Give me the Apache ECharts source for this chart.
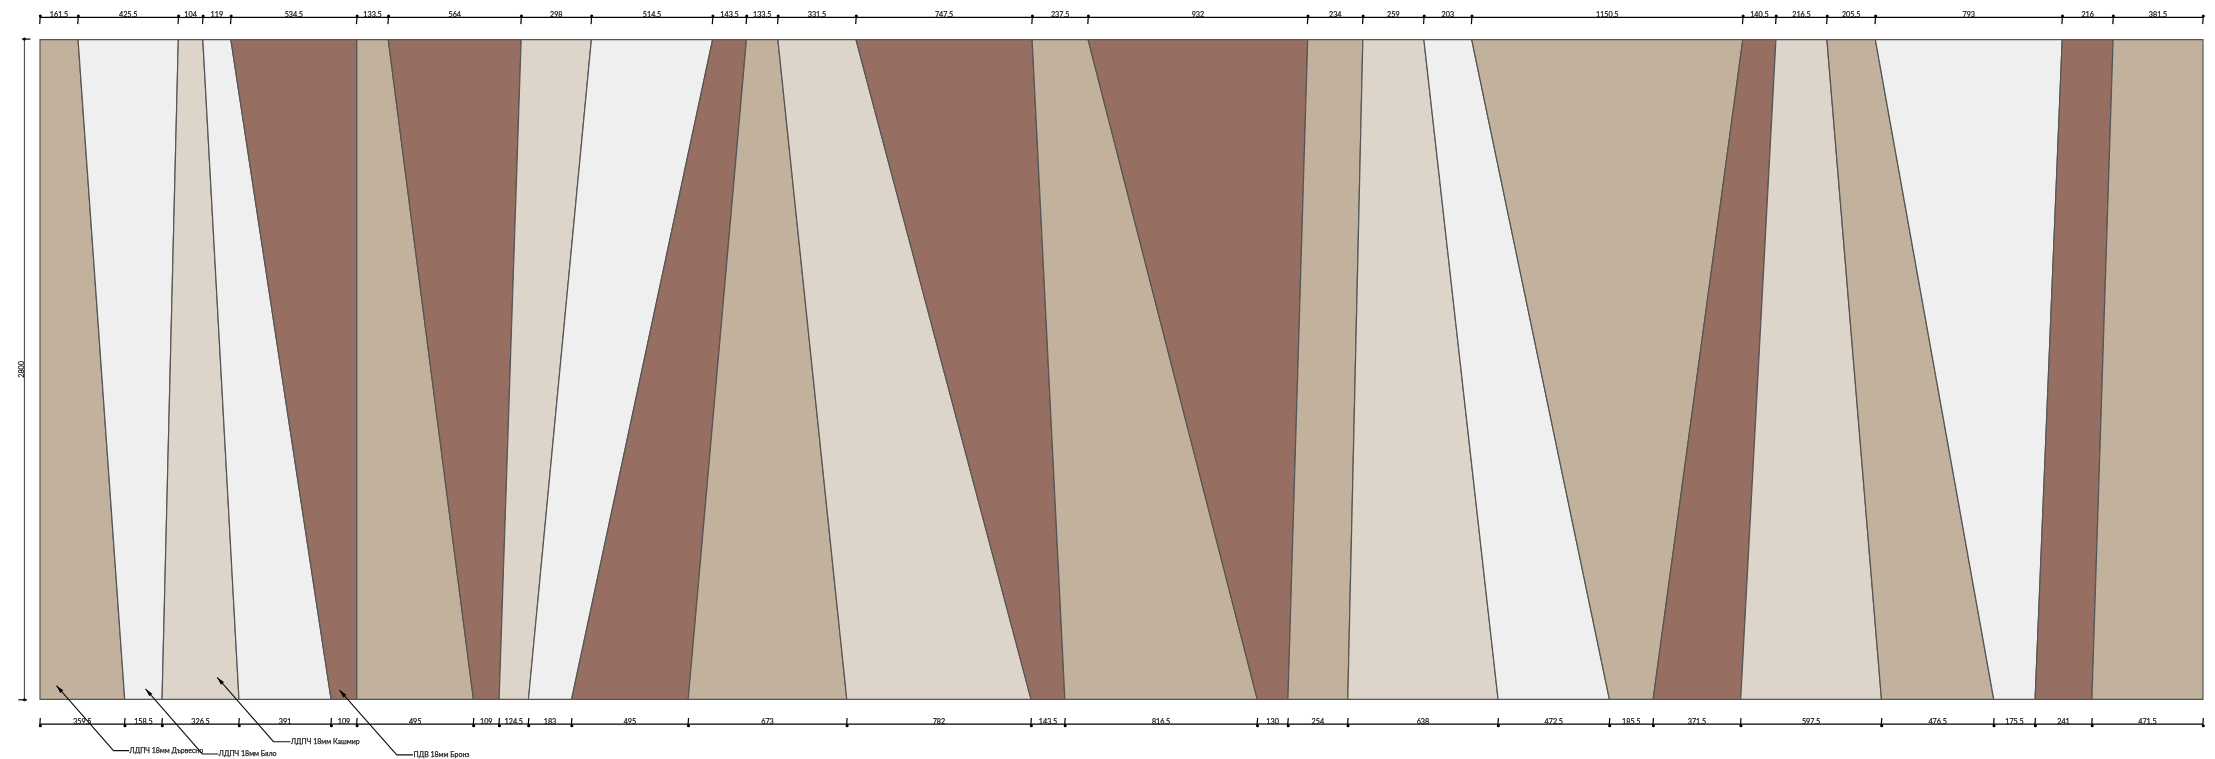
<!DOCTYPE html>
<html><head><meta charset="utf-8">
<style>html,body{margin:0;padding:0;background:#fff}#c{width:2215px;height:759px}</style>
<script src="https://cdn.jsdelivr.net/npm/echarts@6/dist/echarts.min.js"></script>
</head><body><div id="c"></div>
<script>
const topWidths=[161.5,425.5,104,119,534.5,133.5,564,298,514.5,143.5,133.5,331.5,747.5,237.5,932,234,259,203,1150.5,140.5,216.5,205.5,793,216,381.5];
const bottomWidths=[359.5,158.5,326.5,391,109,495,109,124.5,183,495,673,782,143.5,816.5,130,254,638,472.5,185.5,371.5,597.5,476.5,175.5,241,471.5];
const materials=['tan','white','beige','white','brown','tan','brown','beige','white','brown','tan','beige','brown','tan','brown','tan','beige','white','tan','brown','beige','tan','white','brown','tan'];
const heightValue=2800;
const leaderLabels=['ЛДПЧ 18мм Дървесно','ЛДПЧ 18мм Бяло','ЛДПЧ 18мм Кашмир','ПДВ 18мм Бронз'];
const leaderTipX=[70,448,752,1271];
const leaderTipY=[58,44,93,39];
const leaderKneeX=[312,689,991,1514];
const leaderKneeY=[-218,-232,-180,-236];
const leaderEndX=[378,757,1063,1583];

const COLORS={tan:'#c2b19c',white:'#efefef',beige:'#ddd5ca',brown:'#976f62'};
const FONT='Lato, "Noto Sans", sans-serif';
const TOP_DIM_Y=2894, BOTTOM_DIM_Y=-105;
const edges=a=>{let s=0;const r=[0];a.forEach(v=>{s+=v;r.push(s)});return r};
const topEdges=edges(topWidths),bottomEdges=edges(bottomWidths);
const total=topEdges[topEdges.length-1];
const textStyle={fill:'#1a1a1a',stroke:'#333',lineWidth:0.25};

function panelItem(p,api){
  const i=api.value(0);
  const pts=[[topEdges[i],heightValue],[topEdges[i+1],heightValue],[bottomEdges[i+1],0],[bottomEdges[i],0]].map(q=>api.coord(q));
  return {type:'polygon',shape:{points:pts},style:{fill:COLORS[materials[i]],stroke:'#555',lineWidth:1.2}};
}
function dimItem(edgesArr,widths,dimY,isTop){
  return function(p,api){
    const i=api.value(0);
    const a=api.coord([edgesArr[i],dimY]),b=api.coord([edgesArr[i+1],dimY]);
    const y=a[1];
    const up=isTop?-2.3:-6, down=isTop?6.7:2.7, dot=isTop?-1.5:1.6;
    const ch=[
      {type:'line',shape:{x1:a[0],y1:y,x2:b[0],y2:y},style:{stroke:'#000',lineWidth:1.2}},
      {type:'line',shape:{x1:a[0]+0.3,y1:y+up,x2:a[0]-0.3,y2:y+down},style:{stroke:'#000',lineWidth:1.2}},
      {type:'circle',shape:{cx:a[0]+0.3,cy:y+dot,r:1.5},style:{fill:'#000'}},
      {type:'text',style:Object.assign({x:(a[0]+b[0])/2,y:y-2.8,text:String(widths[i]),font:'7.2px '+FONT,textAlign:'center',textVerticalAlign:'middle'},textStyle)}
    ];
    if(i===widths.length-1){
      ch.push({type:'line',shape:{x1:b[0]+0.3,y1:y+up,x2:b[0]-0.3,y2:y+down},style:{stroke:'#000',lineWidth:1.2}});
      ch.push({type:'circle',shape:{cx:b[0]+0.3,cy:y+dot,r:1.5},style:{fill:'#000'}});
    }
    return {type:'group',children:ch};
  };
}
function heightDimItem(p,api){
  const top=api.coord([-66,heightValue]),bot=api.coord([-66,0]);
  const x=top[0];
  return {type:'group',children:[
    {type:'line',shape:{x1:x,y1:top[1]-0.5,x2:x,y2:bot[1]+0.5},style:{stroke:'#555',lineWidth:1.2}},
    {type:'line',shape:{x1:x-2.5,y1:top[1]-0.5,x2:x+6,y2:top[1]-0.5},style:{stroke:'#000',lineWidth:1.2}},
    {type:'line',shape:{x1:x-6,y1:bot[1]+0.5,x2:x+2.5,y2:bot[1]+0.5},style:{stroke:'#000',lineWidth:1.2}},
    {type:'circle',shape:{cx:x,cy:top[1]-0.5,r:1.5},style:{fill:'#000'}},
    {type:'circle',shape:{cx:x,cy:bot[1]+0.5,r:1.5},style:{fill:'#000'}},
    {type:'text',x:x-2.8,y:(top[1]+bot[1])/2,rotation:Math.PI/2,style:Object.assign({x:0,y:0,text:String(heightValue),font:'7.2px '+FONT,textAlign:'center',textVerticalAlign:'middle'},textStyle)}
  ]};
}
function leaderItem(p,api){
  const i=api.value(0);
  const t=api.coord([leaderTipX[i],leaderTipY[i]]),k=api.coord([leaderKneeX[i],leaderKneeY[i]]),e=api.coord([leaderEndX[i],leaderKneeY[i]]);
  const dx=k[0]-t[0],dy=k[1]-t[1],l=Math.hypot(dx,dy),ux=dx/l,uy=dy/l,L=8,W=2;
  const bx=t[0]+ux*L,by=t[1]+uy*L;
  return {type:'group',children:[
    {type:'polyline',shape:{points:[t,k,e]},style:{stroke:'#111',lineWidth:1.1,fill:null}},
    {type:'polygon',shape:{points:[t,[bx-uy*W,by+ux*W],[bx+uy*W,by-ux*W]]},style:{fill:'#000'}},
    {type:'text',style:Object.assign({x:e[0]+0.5,y:e[1],text:leaderLabels[i],font:'7px '+FONT,textAlign:'left',textVerticalAlign:'middle'},textStyle)}
  ]};
}
const idx=topWidths.map((_,i)=>[i]);
const chart=echarts.init(document.getElementById('c'),null,{renderer:'canvas'});
chart.setOption({
  animation:false,backgroundColor:'#fff',
  grid:{left:40,right:12,top:39.6,bottom:59.7},
  xAxis:{type:'value',min:0,max:total,show:false},
  yAxis:{type:'value',min:0,max:heightValue,show:false},
  series:[
    {type:'custom',name:'panels',silent:true,clip:false,data:idx,renderItem:panelItem,encode:{x:-1,y:-1}},
    {type:'custom',name:'top',silent:true,clip:false,data:idx,renderItem:dimItem(topEdges,topWidths,TOP_DIM_Y,true),encode:{x:-1,y:-1}},
    {type:'custom',name:'bottom',silent:true,clip:false,data:idx,renderItem:dimItem(bottomEdges,bottomWidths,BOTTOM_DIM_Y,false),encode:{x:-1,y:-1}},
    {type:'custom',name:'height',silent:true,clip:false,data:[[0]],renderItem:heightDimItem,encode:{x:-1,y:-1}},
    {type:'custom',name:'leaders',silent:true,clip:false,data:leaderLabels.map((_,i)=>[i]),renderItem:leaderItem,encode:{x:-1,y:-1}}
  ]
});
</script></body></html>
